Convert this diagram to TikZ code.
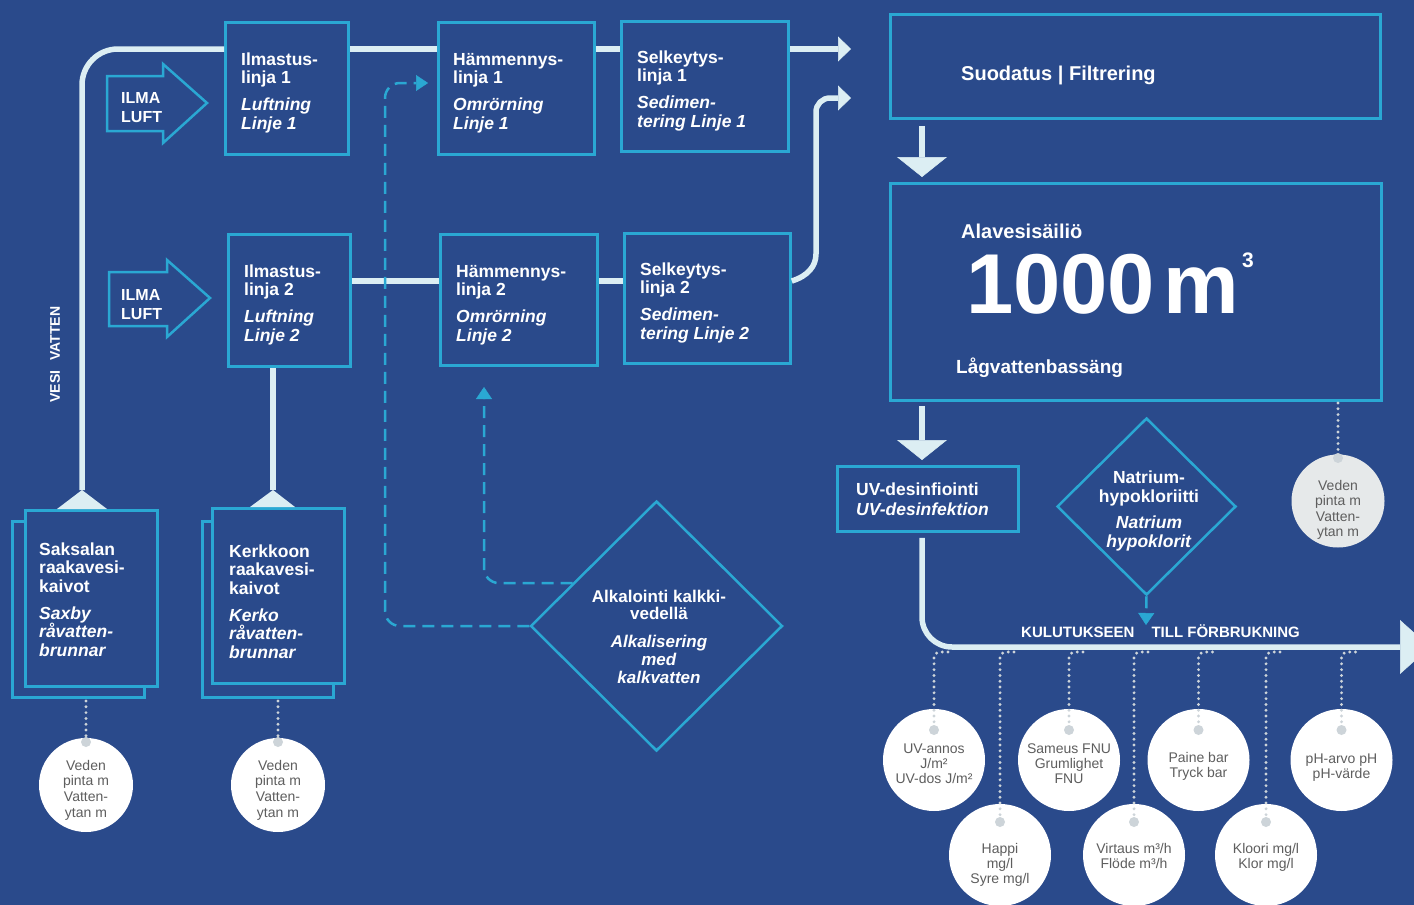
\documentclass[tikz,border=0pt]{standalone}
\usepackage{fontspec}
\setmainfont{Liberation Sans}
\usetikzlibrary{arrows.meta,shapes.geometric,calc}
\definecolor{bg}{HTML}{2A4A8B}
\definecolor{cyanb}{HTML}{2AA8D3}
\definecolor{pipec}{HTML}{DCEEF3}
\definecolor{dotc}{HTML}{CDD4D9}
\definecolor{greytxt}{HTML}{5E5E5E}
\definecolor{lgrey}{HTML}{E6E9EA}
\begin{document}
\begin{tikzpicture}[x=1pt,y=-1pt,
  box/.style={draw=cyanb, line width=2.8pt, fill=bg, inner sep=0pt, anchor=north west},
  btxt/.style={text=white, font=\fontsize{17.5}{18.5}\selectfont\bfseries, align=left, inner sep=0pt, anchor=north west},
  dtxt/.style={text=white, inner sep=0pt, align=center, anchor=north},
  pipe/.style={draw=pipec, line width=5.5pt},
  lighthead/.style={-{Triangle[width=25pt,length=13pt,line width=0.5pt]}},
  downhead/.style={-{Triangle[width=50pt,length=20pt,line width=0.5pt]}},
  bighead/.style={-{Triangle[width=54pt,length=30pt,line width=0.5pt]}},
  dashln/.style={draw=cyanb, line width=2.5pt, dash pattern=on 12pt off 7pt},
  dhead/.style={-{Triangle[width=16pt,length=12pt,line width=0.5pt]}},
  dotln/.style={draw=dotc, line width=3.2pt, line cap=round, dash pattern=on 0pt off 5.8pt},
  sensor/.style={circle, fill=white, inner sep=0pt, minimum size=102pt},
  wsensor/.style={circle, fill=white, inner sep=0pt, minimum size=94pt},
  stxt/.style={text=greytxt, font=\fontsize{14}{15}\selectfont, align=center, inner sep=0pt, anchor=north},
  wtxt/.style={text=greytxt, font=\fontsize{14}{15.7}\selectfont, align=center, inner sep=0pt, anchor=north},
  sdot/.style={circle, fill=dotc, inner sep=0pt, minimum size=10pt},
  air/.style={draw=cyanb, line width=2.5pt, fill=bg, line join=miter},
  airtxt/.style={text=white, font=\fontsize{16}{19}\selectfont\bfseries, align=left, inner sep=0pt, anchor=north west},
  dia/.style={diamond, aspect=1, draw=cyanb, line width=2.5pt, fill=bg, inner sep=0pt}
]
\useasboundingbox (0,0) rectangle (1414,905);
\fill[bg] (0,0) rectangle (1414,905);

% coordinates
\coordinate (yl1) at (0,49);
\coordinate (yl2) at (0,281);
\coordinate (xa) at (922,0);
\coordinate (sakT) at (82,490);
\coordinate (kerT) at (273,490);
\coordinate (ftop1) at (851,49);
\coordinate (ftop2) at (851,98);
\coordinate (cons) at (1430,647);
\coordinate (dA) at (385,83);
\coordinate (dtipA) at (428,83);
\coordinate (dtipB) at (484,387);
\coordinate (ntip) at (1146,625);

% air arrows
\draw[air] (107,76) -- (163,76) -- (163,64) -- (207,103) -- (163,143) -- (163,131) -- (107,131) -- cycle;
\draw[air] (109,272) -- (167,272) -- (167,260) -- (210,298) -- (167,337) -- (167,326) -- (109,326) -- cycle;
\node[airtxt] (air1t) at (121,91) {\rule{0pt}{12pt}ILMA\\LUFT};
\node[airtxt] (air2t) at (121,288) {\rule{0pt}{12pt}ILMA\\LUFT};

% boxes
\node[box, minimum width=123pt, minimum height=132pt] (il1) at (224,21) {};
\node[box, minimum width=122pt, minimum height=132pt] (il2) at (227,233) {};
\node[box, minimum width=156pt, minimum height=132pt] (ha1) at (437,21) {};
\node[box, minimum width=157pt, minimum height=131pt] (ha2) at (439,233) {};
\node[box, minimum width=167pt, minimum height=130pt] (se1) at (620,20) {};
\node[box, minimum width=166pt, minimum height=130pt] (se2) at (623,232) {};
\node[box, minimum width=490pt, minimum height=104pt] (filt) at (889,13) {};
\node[box, minimum width=491pt, minimum height=217pt] (tank) at (889,182) {};
\node[box, minimum width=181pt, minimum height=65pt] (uv) at (836,465) {};
\node[box, minimum width=132pt, minimum height=176pt] (sakB) at (11,520) {};
\node[box, minimum width=132pt, minimum height=176pt] (sak) at (24,509) {};
\node[box, minimum width=131pt, minimum height=176pt] (kerB) at (201,520) {};
\node[box, minimum width=132pt, minimum height=175pt] (ker) at (211,507) {};

% diamonds
\node[dia, minimum width=252pt, minimum height=250pt] (alk) at (656.5,626) {};
\node[dia, minimum width=179pt, minimum height=177pt] (nat) at (1146.5,506.5) {};

% pipes
\draw[pipe, rounded corners=36pt] (sakT) |- (il1.west |- yl1);
\draw[pipe] (il1.east |- yl1) -- (ha1.west |- yl1);
\draw[pipe] (ha1.east |- yl1) -- (se1.west |- yl1);
\draw[pipe, lighthead] (se1.east |- yl1) -- (ftop1);
\draw[pipe] (kerT) -- (kerT |- il2.south);
\draw[pipe] (il2.east |- yl2) -- (ha2.west |- yl2);
\draw[pipe] (ha2.east |- yl2) -- (se2.west |- yl2);
\draw[pipe, rounded corners=14pt, lighthead] (se2.east |- yl2) .. controls (808,276) and (816,266) .. (816,240) |- (ftop2);
\fill[pipec] (57,509) -- (107,509) -- (sakT) -- cycle;
\fill[pipec] (250,507) -- (295,507) -- (kerT) -- cycle;
\draw[pipe, downhead, shorten <=6pt, shorten >=5pt] (xa |- filt.south) -- (xa |- tank.north);
\draw[pipe, downhead, shorten <=4pt, shorten >=5pt] (xa |- tank.south) -- (xa |- uv.north);
\draw[pipe, rounded corners=30pt, bighead, shorten <=5pt] (xa |- uv.south) |- (cons);

% dashed lines
\draw[dashln, rounded corners=15pt, dhead] (alk.west) -| (dA) -- (dtipA);
\draw[dashln, rounded corners=15pt, dhead] ($(alk.west)!0.34!(alk.north)$) -| (dtipB);
\draw[dashln, dhead] (nat.south) -- (ntip);

% sensor circles
\node[wsensor] (c_sak) at (86,785) {};
\node[wsensor] (c_ker) at (278,785) {};
\node[wsensor, fill=lgrey, minimum size=93pt] (c_tank) at (1338,501) {};
\node[sensor] (c_uv) at (934,760) {};
\node[sensor] (c_sam) at (1069,760) {};
\node[sensor] (c_pai) at (1198.5,760) {};
\node[sensor] (c_ph) at (1341.5,760) {};
\node[sensor] (c_hap) at (1000,855) {};
\node[sensor] (c_vir) at (1134,855) {};
\node[sensor] (c_klo) at (1266,855) {};

% dotted connectors and dots
\coordinate (t_sak) at (86,701);
\coordinate (t_ker) at (278,701);
\coordinate (t_tank) at (1338,403);
\node[sdot] (d_sak) at (86,742) {};
\node[sdot] (d_ker) at (278,742) {};
\node[sdot] (d_tank) at (1338,458) {};
\draw[dotln] (t_sak) -- (d_sak.north);
\draw[dotln] (t_ker) -- (d_ker.north);
\draw[dotln] (t_tank) -- (d_tank.north);
\foreach \n/\x/\y in {uv/934/730, sam/1069/730, pai/1198.5/730, ph/1341.5/730, hap/1000/822, vir/1134/822, klo/1266/822}{
  \coordinate (h_\n) at (\x+14,652);
  \node[sdot] (d_\n) at (\x,\y) {};
  \draw[dotln, rounded corners=6pt] (h_\n) -| (d_\n.north);
}

% box texts
\node[btxt] (il1t) at (241,52) {\rule{0pt}{13pt}Ilmastus-\\linja 1\\[8.5pt]\textit{Luftning}\\\textit{Linje 1}};
\node[btxt] (il2t) at (244,264) {\rule{0pt}{13pt}Ilmastus-\\linja 2\\[8.5pt]\textit{Luftning}\\\textit{Linje 2}};
\node[btxt] (ha1t) at (453,52) {\rule{0pt}{13pt}Hämmennys-\\linja 1\\[8.5pt]\textit{Omrörning}\\\textit{Linje 1}};
\node[btxt] (ha2t) at (456,264) {\rule{0pt}{13pt}Hämmennys-\\linja 2\\[8.5pt]\textit{Omrörning}\\\textit{Linje 2}};
\node[btxt] (se1t) at (637,50) {\rule{0pt}{13pt}Selkeytys-\\linja 1\\[8.5pt]\textit{Sedimen-}\\\textit{tering Linje 1}};
\node[btxt] (se2t) at (640,262) {\rule{0pt}{13pt}Selkeytys-\\linja 2\\[8.5pt]\textit{Sedimen-}\\\textit{tering Linje 2}};
\node[btxt] (sakt) at (39,542) {\rule{0pt}{13pt}Saksalan\\raakavesi-\\kaivot\\[8.5pt]\textit{Saxby}\\\textit{råvatten-}\\\textit{brunnar}};
\node[btxt] (kert) at (229,544) {\rule{0pt}{13pt}Kerkkoon\\raakavesi-\\kaivot\\[8.5pt]\textit{Kerko}\\\textit{råvatten-}\\\textit{brunnar}};
\node[btxt, font=\fontsize{17.5}{20}\selectfont\bfseries] (uvt) at (856,482) {\rule{0pt}{13pt}UV-desinfiointi\\\textit{UV-desinfektion}};
\node[dtxt, font=\fontsize{17}{17.7}\selectfont\bfseries] (alkt) at (659,588) {\rule{0pt}{14pt}Alkalointi kalkki-\\vedellä\\[10pt]\textit{Alkalisering}\\\textit{med}\\\textit{kalkvatten}};
\node[dtxt, font=\fontsize{17.5}{19}\selectfont\bfseries] (natt) at (1149,469) {\rule{0pt}{14pt}Natrium-\\hypokloriitti\\[7pt]\textit{Natrium}\\\textit{hypoklorit}};

\node[anchor=base west, inner sep=0pt, text=white, font=\fontsize{20}{24}\selectfont\bfseries] (filtt) at (961,80) {Suodatus | Filtrering};
\node[anchor=base west, inner sep=0pt, text=white, font=\fontsize{20}{24}\selectfont\bfseries] (tankt1) at (961,238) {Alavesisäiliö};
\node[anchor=base west, inner sep=0pt, text=white, font=\fontsize{85}{85}\selectfont\bfseries] (tankt2) at (966,313) {1000\kern8pt m};
\node[anchor=base west, inner sep=0pt, text=white, font=\fontsize{21}{21}\selectfont\bfseries] (tankt3) at (1242,267) {3};
\node[anchor=base west, inner sep=0pt, text=white, font=\fontsize{19}{23}\selectfont\bfseries] (tankt4) at (956,373) {Lågvattenbassäng};

\node[rotate=90, inner sep=0pt, text=white, font=\fontsize{14}{16}\selectfont\bfseries] (vesi) at (55,354.5) {VESI\hspace{10pt}VATTEN};
\node[anchor=base west, inner sep=0pt, text=white, font=\fontsize{15}{18}\selectfont\bfseries] (kulu) at (1021,637) {KULUTUKSEEN\hspace{17pt}TILL FÖRBRUKNING};

% sensor texts
\node[wtxt] (c_sakt) at (86,759) {\rule{0pt}{11pt}Veden\\pinta m\\Vatten-\\ytan m};
\node[wtxt] (c_kert) at (278,759) {\rule{0pt}{11pt}Veden\\pinta m\\Vatten-\\ytan m};
\node[wtxt, font=\fontsize{14}{15.5}\selectfont] (c_tankt) at (1338,479) {\rule{0pt}{11pt}Veden\\pinta m\\Vatten-\\ytan m};
\node[stxt] (c_uvt) at (934,742) {\rule{0pt}{11pt}UV-annos\\J/m²\\UV-dos J/m²};
\node[stxt] (c_samt) at (1069,742) {\rule{0pt}{11pt}Sameus FNU\\Grumlighet\\FNU};
\node[stxt] (c_pait) at (1198.5,751) {\rule{0pt}{11pt}Paine bar\\Tryck bar};
\node[stxt] (c_pht) at (1341.5,752) {\rule{0pt}{11pt}pH-arvo pH\\pH-värde};
\node[stxt] (c_hapt) at (1000,842) {\rule{0pt}{11pt}Happi\\mg/l\\Syre mg/l};
\node[stxt] (c_virt) at (1134,842) {\rule{0pt}{11pt}Virtaus m³/h\\Flöde m³/h};
\node[stxt] (c_klot) at (1266,842) {\rule{0pt}{11pt}Kloori mg/l\\Klor mg/l};
\end{tikzpicture}
\end{document}
